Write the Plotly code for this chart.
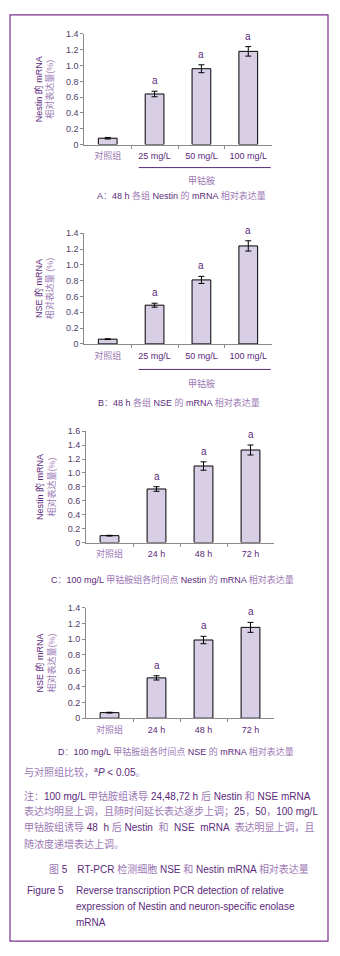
import re
import plotly.graph_objects as go

W, H = 340, 956

# ---------------- data ----------------
groups_dose = ["对照组", "25 mg/L", "50 mg/L", "100 mg/L"]
groups_time = ["对照组", "24 h", "48 h", "72 h"]

nestin_dose = [0.08, 0.64, 0.96, 1.18]
nestin_dose_err = [0.01, 0.035, 0.05, 0.06]

nse_dose = [0.06, 0.49, 0.81, 1.24]
nse_dose_err = [0.005, 0.025, 0.045, 0.065]

nestin_time = [0.10, 0.77, 1.10, 1.33]
nestin_time_err = [0.005, 0.033, 0.06, 0.072]

nse_time = [0.07, 0.51, 0.99, 1.15]
nse_time_err = [0.005, 0.027, 0.047, 0.063]

sig = ["", "a", "a", "a"]

yticks_14 = [0, 0.2, 0.4, 0.6, 0.8, 1.0, 1.2, 1.4]
yticklabels_14 = ["0", "0.2", "0.4", "0.6", "0.8", "1.0", "1.2", "1.4"]
yticks_16 = [0, 0.2, 0.4, 0.6, 0.8, 1.0, 1.2, 1.4, 1.6]
yticklabels_16 = ["0", "0.2", "0.4", "0.6", "0.8", "1.0", "1.2", "1.4", "1.6"]

ytitle_top = ["Nestin 的 mRNA", "NSE 的 mRNA", "Nestin 的 mRNA", "NSE 的 mRNA"]
ytitle_bottom = ["相对表达量(%)", "相对表达量 (%)", "相对表达量(%)", "相对表达量(%)"]

captions = [
    "A：48 h 各组 Nestin 的 mRNA 相对表达量",
    "B：48 h 各组 NSE 的 mRNA 相对表达量",
    "C：100 mg/L 甲钴胺组各时间点 Nestin 的 mRNA 相对表达量",
    "D：100 mg/L 甲钴胺组各时间点 NSE 的 mRNA 相对表达量",
]
drug_label = "甲钴胺"
footnote = "与对照组比较，<sup>a</sup><i>P</i> &lt; 0.05。"
notes = [
    "注：100 mg/L 甲钴胺组诱导 24,48,72 h 后 Nestin 和 NSE mRNA",
    "表达均明显上调，且随时间延长表达逐步上调；25，50，100 mg/L",
    "甲钴胺组诱导 48  h 后 Nestin  和  NSE  mRNA  表达明显上调，且",
    "随浓度递增表达上调。",
]
fig_cn = "图 5　RT-PCR 检测细胞 NSE 和 Nestin mRNA 相对表达量"
fig_en_label = "Figure 5"
fig_en = [
    "Reverse transcription PCR detection of relative",
    "expression of Nestin and neuron-specific enolase",
    "mRNA",
]

# ---------------- styles ----------------
DARK = "#5c2a7c"
LIGHT = "#9c78b4"
TICK = "#533d68"
AXIS = "#8a8a8a"
BAR = "#d8cfe7"
BORDER = "#7b2f8e"
FONT = "Liberation Sans, Arial, Noto Sans CJK SC, sans-serif"

CJK = re.compile(r"([\u3000-\u303f\u4e00-\u9fff\uff00-\uffef]+)")


def cjk(text, color=LIGHT):
    return CJK.sub(lambda m: f'<span style="color:{color}">{m.group(1)}</span>', text)


def px_x(x):
    return x / W


def px_y(y):
    return 1 - y / H


# panel geometry (pixels): x-left, x-right, y-top, y-bottom
panels = [
    dict(x0=84.3, x1=271.7, yt=29.3, yb=141.0, cats=groups_dose, vals=nestin_dose,
         err=nestin_dose_err, ymax=1.4, tv=yticks_14, tt=yticklabels_14),
    dict(x0=84.3, x1=271.7, yt=230.7, yb=342.5, cats=groups_dose, vals=nse_dose,
         err=nse_dose_err, ymax=1.4, tv=yticks_14, tt=yticklabels_14),
    dict(x0=86.0, x1=274.0, yt=430.7, yb=543.3, cats=groups_time, vals=nestin_time,
         err=nestin_time_err, ymax=1.6, tv=yticks_16, tt=yticklabels_16),
    dict(x0=86.0, x1=274.0, yt=609.0, yb=720.7, cats=groups_time, vals=nse_time,
         err=nse_time_err, ymax=1.4, tv=yticks_14, tt=yticklabels_14),
]

fig = go.Figure()
layout = dict(
    width=W, height=H, margin=dict(l=0, r=0, t=0, b=0),
    paper_bgcolor="white", plot_bgcolor="white", showlegend=False,
    font=dict(family=FONT, size=9, color=DARK),
)
annotations = []
shapes = []

for i, p in enumerate(panels, start=1):
    xa, ya = f"x{i}", f"y{i}"
    idx = list(range(len(p["cats"])))
    fig.add_trace(go.Bar(
        x=idx, y=p["vals"], width=0.4, xaxis=xa, yaxis=ya,
        marker=dict(color=BAR, line=dict(color="black", width=1)),
        error_y=dict(type="data", array=p["err"], color="black", thickness=1, width=3),
        hoverinfo="skip",
    ))
    # significance letters above the error bars
    for k, s in enumerate(sig):
        if s:
            annotations.append(dict(
                text=s, x=idx[k], y=p["vals"][k] + p["err"][k], xref=xa, yref=ya,
                xanchor="center", yanchor="bottom", yshift=3, showarrow=False,
                font=dict(size=10, color=DARK, family=FONT),
            ))
    layout[f"xaxis{i}"] = dict(
        domain=[px_x(p["x0"]), px_x(p["x1"])], anchor=ya, range=[-0.5, 3.5],
        tickmode="array", tickvals=idx, ticktext=[cjk(c) for c in p["cats"]],
        ticks="", showline=True, linecolor=AXIS, linewidth=1,
        showgrid=False, zeroline=False, ticklabelstandoff=3,
        tickfont=dict(size=9, color=DARK, family=FONT),
        minor=dict(tickmode="array", tickvals=[0.5, 1.5, 2.5], ticks="outside",
                   ticklen=3, tickcolor=AXIS, tickwidth=1, showgrid=False),
        fixedrange=True,
    )
    layout[f"yaxis{i}"] = dict(
        domain=[px_y(p["yb"]), px_y(p["yt"])], anchor=xa, range=[0, p["ymax"]],
        tickmode="array", tickvals=p["tv"], ticktext=p["tt"],
        ticks="outside", ticklen=3, tickcolor=AXIS, tickwidth=1,
        showline=True, linecolor=AXIS, linewidth=1, showgrid=False, zeroline=False,
        tickfont=dict(size=9, color=TICK, family=FONT),
        title=dict(
            text=f'<span style="color:{DARK}">{ytitle_top[i-1]}</span><br>'
                 f'<span style="color:{LIGHT}">{ytitle_bottom[i-1]}</span>',
            font=dict(size=9, family=FONT), standoff=10,
        ),
        fixedrange=True,
    )


def ann(text, x, y, xanchor="center", size=9):
    annotations.append(dict(
        text=text, x=px_x(x), y=px_y(y), xref="paper", yref="paper",
        xanchor=xanchor, yanchor="middle", showarrow=False,
        font=dict(size=size, color=DARK, family=FONT), align="left",
    ))


# drug group underline + label (panels A and B)
for i, (ly, ty) in enumerate([(164.3, 177.0), (368.3, 382.0)], start=1):
    shapes.append(dict(type="line", xref=f"x{i}", yref="paper",
                       x0=0.66, x1=3.48, y0=px_y(ly), y1=px_y(ly),
                       line=dict(color=DARK, width=1)))
    ann(cjk(drug_label), 201, ty)

# captions
for text, (cx, cy) in zip(captions, [(181, 193), (179, 402), (172, 581), (176, 754)]):
    ann(cjk(text), cx, cy)

ann(cjk(footnote), 22, 775, xanchor="left", size=10)
for text, y in zip(notes, [799, 815, 831, 848]):
    ann(cjk(text), 22, y, xanchor="left", size=10)
ann(cjk(fig_cn), 47, 873, xanchor="left", size=10)
ann(fig_en_label, 25, 895, xanchor="left", size=10)
for text, y in zip(fig_en, [895, 911, 927]):
    ann(text, 74, y, xanchor="left", size=10)

# outer frame
shapes.append(dict(type="rect", xref="paper", yref="paper",
                   x0=px_x(10), x1=px_x(328), y0=px_y(946), y1=px_y(10),
                   line=dict(color=BORDER, width=1.2)))

layout["annotations"] = annotations
layout["shapes"] = shapes
fig.update_layout(**layout)
fig.write_html("out.html", config={"displayModeBar": False},
               post_script="document.body.style.margin='0';")
